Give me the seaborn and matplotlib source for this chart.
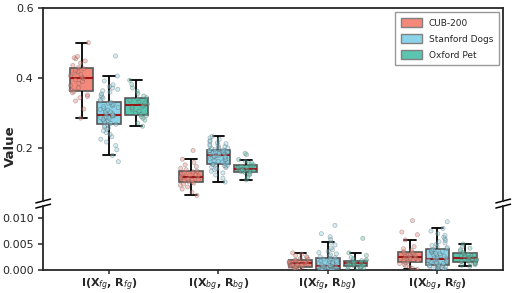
import seaborn as sns
import numpy as np
import pandas as pd
import matplotlib.pyplot as plt
import matplotlib.patches as mpatches

# datasets e metricas
datasets = ['CUB-200', 'Stanford Dogs', 'Oxford Pet']
metrics = [r'I(X$_{fg}$, R$_{fg}$)', r'I(X$_{bg}$, R$_{bg}$)',
           r'I(X$_{fg}$, R$_{bg}$)', r'I(X$_{bg}$, R$_{fg}$)']
colors = ['#F4897B', '#8AD3E9', '#5CC5B0']

# I(Xfg, Rfg)
cub_fgfg = [0.286, 0.312, 0.335, 0.344, 0.348, 0.352, 0.358, 0.362,
            0.366, 0.372, 0.379, 0.385, 0.391, 0.396, 0.399,
            0.403, 0.407, 0.411, 0.415, 0.418, 0.422, 0.427,
            0.430, 0.436, 0.443, 0.449, 0.455, 0.458, 0.462, 0.501]
dogs_fgfg = [0.162, 0.180, 0.196, 0.208, 0.218, 0.226, 0.233, 0.240, 0.245, 0.250,
             0.254, 0.258, 0.261, 0.264, 0.267,
             0.2685, 0.271, 0.274, 0.277, 0.279, 0.281, 0.283, 0.285, 0.287, 0.289,
             0.290, 0.292, 0.293, 0.294, 0.295,
             0.297, 0.299, 0.301, 0.304, 0.306, 0.309, 0.311, 0.314, 0.316, 0.319,
             0.321, 0.324, 0.326, 0.329, 0.331,
             0.335, 0.339, 0.343, 0.347, 0.351, 0.355, 0.360, 0.364, 0.368, 0.372,
             0.376, 0.381, 0.392, 0.406, 0.463]
pet_fgfg = [0.263, 0.272, 0.280, 0.286, 0.290, 0.293, 0.296,
            0.300, 0.306, 0.311, 0.316, 0.320, 0.323,
            0.326, 0.329, 0.333, 0.337, 0.341, 0.344,
            0.349, 0.356, 0.363, 0.372, 0.382, 0.394]

# I(Xbg, Rbg)
cub_bgbg = [0.066, 0.075, 0.084, 0.090, 0.095, 0.098, 0.101, 0.1035,
            0.1045, 0.107, 0.109, 0.111, 0.113, 0.115, 0.117,
            0.119, 0.121, 0.123, 0.125, 0.127, 0.130, 0.133,
            0.135, 0.139, 0.143, 0.148, 0.153, 0.160, 0.169, 0.194]
dogs_bgbg = [0.104, 0.115, 0.124, 0.130, 0.135, 0.139, 0.142, 0.145, 0.147, 0.149,
             0.151, 0.152, 0.153, 0.154, 0.155,
             0.1565, 0.159, 0.161, 0.163, 0.165, 0.167, 0.169, 0.171, 0.173, 0.174,
             0.176, 0.177, 0.178, 0.180, 0.181,
             0.183, 0.184, 0.185, 0.186, 0.187, 0.188, 0.189, 0.190, 0.191, 0.192,
             0.193, 0.194, 0.194, 0.195, 0.196,
             0.197, 0.199, 0.201, 0.203, 0.205, 0.207, 0.209, 0.211, 0.213, 0.216,
             0.219, 0.222, 0.226, 0.230, 0.234]
pet_bgbg = [0.110, 0.118, 0.124, 0.128, 0.131, 0.133, 0.134,
            0.135, 0.136, 0.137, 0.139, 0.140, 0.141,
            0.143, 0.145, 0.147, 0.149, 0.151, 0.153,
            0.156, 0.159, 0.163, 0.168, 0.182, 0.186]

# I(Xfg, Rbg)
cub_fgbg = [0.00005, 0.00015, 0.00025, 0.00035, 0.00045, 0.00052, 0.00058, 0.00063,
            0.00067, 0.00075, 0.00084, 0.00093, 0.00102, 0.00112, 0.00122,
            0.00134, 0.00142, 0.00150, 0.00158, 0.00166, 0.00174, 0.00182,
            0.00190, 0.00205, 0.00220, 0.00238, 0.00258, 0.00280, 0.00305, 0.00330]
dogs_fgbg = [0.00000, 0.00001, 0.00002, 0.00003, 0.00004, 0.00005, 0.00006, 0.00007,
             0.00008, 0.00009, 0.00010, 0.00011, 0.00012, 0.00013, 0.00014,
             0.00016, 0.00020, 0.00025, 0.00030, 0.00035, 0.00040, 0.00045, 0.00050,
             0.00055, 0.00060, 0.00065, 0.00069, 0.00073, 0.00077, 0.00081,
             0.00085, 0.00092, 0.00100, 0.00108, 0.00116, 0.00125, 0.00134, 0.00144,
             0.00154, 0.00165, 0.00176, 0.00187, 0.00198, 0.00209, 0.00220,
             0.00236, 0.00252, 0.00270, 0.00290, 0.00310, 0.00335, 0.00360, 0.00390,
             0.00425, 0.00480, 0.00535, 0.00590, 0.00640, 0.00700, 0.00860]
pet_fgbg = [0.00008, 0.00020, 0.00032, 0.00045, 0.00055, 0.00063, 0.00070,
            0.00080, 0.00092, 0.00104, 0.00114, 0.00122, 0.00130,
            0.00138, 0.00146, 0.00154, 0.00162, 0.00171, 0.00180,
            0.00195, 0.00215, 0.00240, 0.00280, 0.00330, 0.00610]

# I(Xbg, Rfg)
cub_bgfg = [0.00010, 0.00030, 0.00055, 0.00080, 0.00105, 0.00125, 0.00142, 0.00157,
            0.00168, 0.00180, 0.00192, 0.00204, 0.00216, 0.00228, 0.00242,
            0.00258, 0.00272, 0.00286, 0.00300, 0.00314, 0.00328, 0.00342,
            0.00355, 0.00380, 0.00410, 0.00450, 0.00580, 0.00680, 0.00730, 0.00950]
dogs_bgfg = [0.00000, 0.00005, 0.00010, 0.00016, 0.00022, 0.00028, 0.00035, 0.00042,
             0.00050, 0.00058, 0.00066, 0.00074, 0.00082, 0.00088, 0.00094,
             0.00100, 0.00108, 0.00116, 0.00124, 0.00132, 0.00140, 0.00148, 0.00156,
             0.00164, 0.00172, 0.00180, 0.00188, 0.00196, 0.00204, 0.00212,
             0.00228, 0.00240, 0.00252, 0.00264, 0.00276, 0.00288, 0.00300, 0.00312,
             0.00324, 0.00336, 0.00348, 0.00360, 0.00372, 0.00384, 0.00396,
             0.00412, 0.00430, 0.00450, 0.00470, 0.00495, 0.00520, 0.00545, 0.00570,
             0.00600, 0.00630, 0.00665, 0.00700, 0.00750, 0.00800, 0.00930]
pet_bgfg = [0.00070, 0.00090, 0.00105, 0.00118, 0.00130, 0.00140, 0.00150,
            0.00163, 0.00176, 0.00190, 0.00203, 0.00216, 0.00230,
            0.00245, 0.00260, 0.00275, 0.00290, 0.00305, 0.00320,
            0.00340, 0.00365, 0.00390, 0.00420, 0.00455, 0.00500]

valores = [[cub_fgfg, dogs_fgfg, pet_fgfg],
           [cub_bgbg, dogs_bgbg, pet_bgbg],
           [cub_fgbg, dogs_fgbg, pet_fgbg],
           [cub_bgfg, dogs_bgfg, pet_bgfg]]

# monta o dataframe longo
linhas = []
for m, grupo in zip(metrics, valores):
    for d, vals in zip(datasets, grupo):
        for v in vals:
            linhas.append((m, d, v))
df = pd.DataFrame(linhas, columns=['metric', 'dataset', 'value'])

sns.set_style('ticks')
plt.rcParams['axes.linewidth'] = 1.3

fig = plt.figure(figsize=(5.14, 2.93), dpi=100)
ax_top = fig.add_axes([0.084, 0.314, 0.895, 0.659])
ax_bot = fig.add_axes([0.084, 0.0785, 0.895, 0.218])

np.random.seed(3)
for ax in [ax_top, ax_bot]:
    sns.boxplot(data=df, x='metric', y='value', hue='dataset', order=metrics,
                hue_order=datasets, palette=colors, saturation=1, width=0.75,
                gap=0.15, showfliers=False, linecolor='gray', linewidth=1.2,
                whiskerprops={'color': 'black', 'linewidth': 1.3},
                capprops={'color': 'black', 'linewidth': 1.3},
                medianprops={'color': '#9A1515', 'linewidth': 1.5},
                legend=False, ax=ax)
    sns.stripplot(data=df, x='metric', y='value', hue='dataset', order=metrics,
                  hue_order=datasets, palette=colors, dodge=True, jitter=0.27,
                  size=3, alpha=0.4, linewidth=0.5, edgecolor='gray',
                  legend=False, ax=ax)
    ax.set_xlim(-0.6, 3.6)
    ax.set_xlabel('')
    ax.set_ylabel('')
    ax.tick_params(labelsize=8, length=3.5, width=1.1)

# eixo quebrado
ax_top.set_ylim(0.05, 0.6)
ax_top.set_yticks([0.2, 0.4, 0.6])
ax_top.spines['bottom'].set_visible(False)
ax_top.tick_params(axis='x', bottom=False, labelbottom=False)

ax_bot.set_ylim(0, 0.0123)
ax_bot.set_yticks([0.0, 0.005, 0.010])
ax_bot.set_yticklabels(['0.000', '0.005', '0.010'])
ax_bot.spines['top'].set_visible(False)
ax_bot.set_xticks(range(len(metrics)))
ax_bot.set_xticklabels(metrics, fontweight='bold', fontsize=8)
ax_bot.tick_params(axis='x', pad=1.5, length=3)

# marcas da quebra
kw = dict(color='black', clip_on=False, linewidth=1.1)
dx = 0.016
dy = 0.010
ax_top.plot([-dx, dx], [-dy, dy], transform=ax_top.transAxes, **kw)
ax_top.plot([1 - dx, 1 + dx], [-dy, dy], transform=ax_top.transAxes, **kw)
dy2 = dy * 0.659 / 0.218
ax_bot.plot([-dx, dx], [1 - dy2, 1 + dy2], transform=ax_bot.transAxes, **kw)
ax_bot.plot([1 - dx, 1 + dx], [1 - dy2, 1 + dy2], transform=ax_bot.transAxes, **kw)

# legenda
handles = [mpatches.Patch(facecolor=c, edgecolor='gray', label=d)
           for c, d in zip(colors, datasets)]
ax_top.legend(handles=handles, loc='upper right', fontsize=6.5,
              frameon=True, fancybox=False, edgecolor='gray',
              handlelength=2.3, handleheight=1.2, borderpad=0.6, labelspacing=0.7)

fig.text(0.02, 0.5, 'Value', rotation=90, fontweight='bold', fontsize=9.5,
         ha='center', va='center')

fig.savefig('out.png', dpi=100)
